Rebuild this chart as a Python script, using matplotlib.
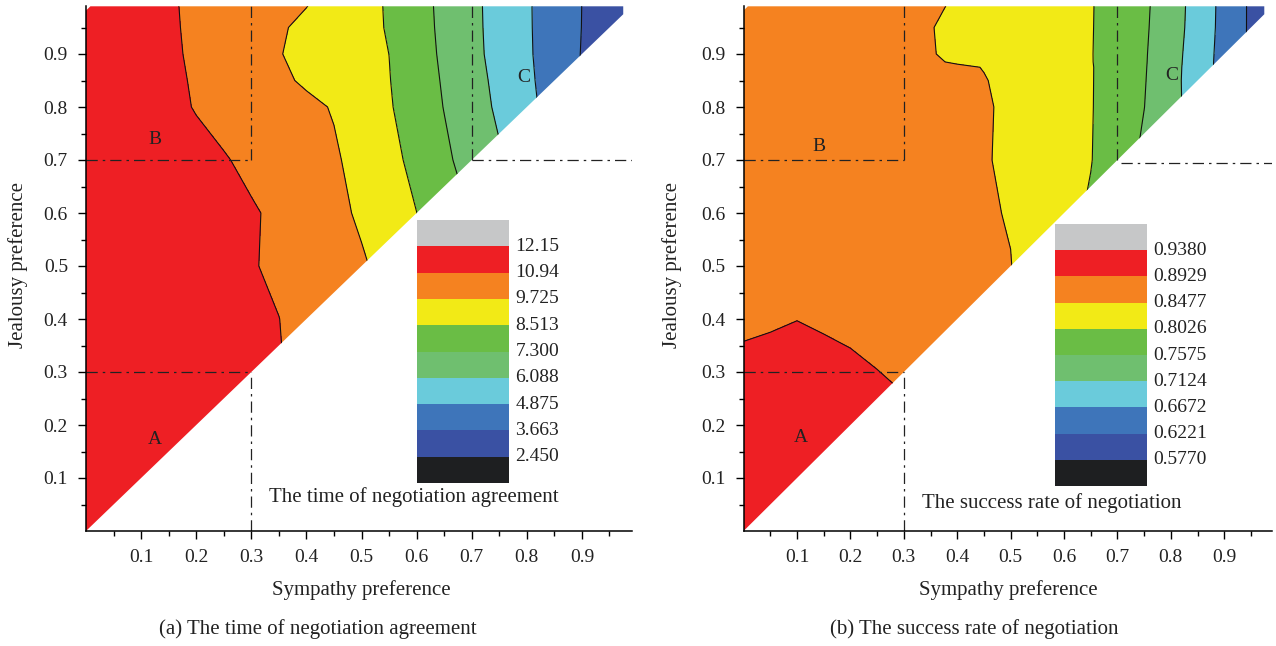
import numpy as np
import matplotlib
matplotlib.use("Agg")
import matplotlib.pyplot as plt
from matplotlib.patches import Polygon

plt.rcParams['font.family'] = ['Liberation Serif', 'DejaVu Serif']

# grid columns (sympathy preference) shared by both panels
sympathy = [0.0, 0.05, 0.1, 0.15, 0.2, 0.25, 0.3, 0.35, 0.4, 0.45, 0.5,
            0.55, 0.6, 0.65, 0.7, 0.75, 0.8, 0.85, 0.9, 0.95, 1.0]

# (a) time of negotiation agreement, one row per jealousy value
time_jealousy = [0.0, 0.3, 0.4, 0.5, 0.6, 0.7, 0.8, 0.85, 0.9, 0.95, 1.0]
time_values = [
    [11.79, 11.69, 11.58, 11.48, 11.38, 11.28, 11.18, 11.08, 10.98, 10.76, 10.45, 10.15, 9.85, 9.36, 8.76, 8.11, 7.43, 6.76, 6.09, 5.33, 4.57],
    [11.79, 11.67, 11.56, 11.44, 11.33, 11.21, 11.10, 10.98, 10.75, 10.43, 10.11, 9.79, 9.26, 8.69, 8.04, 7.37, 6.66, 5.94, 5.18, 4.42, 3.66],
    [11.79, 11.67, 11.55, 11.43, 11.30, 11.18, 11.06, 10.95, 10.63, 10.31, 9.98, 9.61, 9.03, 8.45, 7.77, 7.09, 6.37, 5.63, 4.88, 4.12, 3.36],
    [11.79, 11.66, 11.52, 11.39, 11.26, 11.13, 11.00, 10.78, 10.47, 10.16, 9.85, 9.38, 8.80, 8.18, 7.50, 6.80, 6.09, 5.33, 4.57, 3.81, 3.06],
    [11.79, 11.66, 11.53, 11.40, 11.27, 11.15, 11.02, 10.79, 10.40, 10.00, 9.57, 9.05, 8.52, 7.88, 7.23, 6.52, 5.78, 5.03, 4.27, 3.51, 2.75],
    [11.79, 11.63, 11.47, 11.31, 11.16, 11.00, 10.76, 10.45, 10.15, 9.85, 9.39, 8.83, 8.21, 7.51, 6.85, 6.21, 5.52, 4.79, 3.99, 3.21, 2.50],
    [11.79, 11.57, 11.35, 11.13, 10.90, 10.66, 10.42, 10.18, 9.94, 9.66, 9.13, 8.61, 7.95, 7.27, 6.59, 5.90, 5.19, 4.41, 3.60, 2.96, 2.31],
    [11.79, 11.56, 11.33, 11.11, 10.86, 10.54, 10.23, 9.91, 9.59, 9.24, 8.89, 8.55, 7.89, 7.19, 6.50, 5.81, 5.10, 4.35, 3.60, 2.96, 2.31],
    [11.79, 11.55, 11.32, 11.08, 10.81, 10.46, 10.11, 9.77, 9.45, 9.14, 8.83, 8.51, 7.81, 7.11, 6.40, 5.71, 5.03, 4.33, 3.62, 2.97, 2.31],
    [11.79, 11.54, 11.30, 11.06, 10.78, 10.47, 10.15, 9.84, 9.51, 9.16, 8.82, 8.44, 7.75, 7.06, 6.37, 5.68, 5.01, 4.33, 3.65, 2.98, 2.31],
    [11.79, 11.53, 11.28, 11.03, 10.78, 10.54, 10.29, 10.04, 9.80, 9.39, 8.91, 8.39, 7.71, 7.03, 6.35, 5.67, 5.00, 4.33, 3.66, 2.99, 2.31],
]
time_levels = [2.450, 3.663, 4.875, 6.088, 7.300, 8.513, 9.725, 10.94, 12.15]
time_labels = ['2.450', '3.663', '4.875', '6.088', '7.300', '8.513', '9.725', '10.94', '12.15']

# (b) success rate of negotiation
rate_jealousy = [0.0, 0.2, 0.3, 0.35, 0.4, 0.5, 0.6, 0.7, 0.8, 0.85, 0.875, 0.885, 0.9, 0.95, 1.0]
rate_values = [
    [0.9290, 0.9312, 0.9335, 0.9312, 0.9267, 0.9200, 0.9132, 0.9064, 0.8996, 0.8929, 0.8838, 0.8748, 0.8613, 0.8387, 0.8116, 0.7800, 0.7485, 0.7124, 0.6762, 0.6401, 0.6040],
    [0.9214, 0.9245, 0.9284, 0.9239, 0.9190, 0.9118, 0.9037, 0.8965, 0.8893, 0.8816, 0.8748, 0.8658, 0.8523, 0.8297, 0.8026, 0.7710, 0.7394, 0.7078, 0.6717, 0.6356, 0.5995],
    [0.9033, 0.9064, 0.9104, 0.9059, 0.9010, 0.8938, 0.8857, 0.8784, 0.8712, 0.8658, 0.8590, 0.8523, 0.8297, 0.8071, 0.7800, 0.7485, 0.7169, 0.6853, 0.6492, 0.6131, 0.5770],
    [0.8943, 0.8974, 0.9014, 0.8968, 0.8920, 0.8848, 0.8766, 0.8694, 0.8622, 0.8568, 0.8523, 0.8432, 0.8207, 0.7981, 0.7710, 0.7394, 0.7078, 0.6762, 0.6401, 0.6040, 0.5679],
    [0.8853, 0.8884, 0.8923, 0.8878, 0.8829, 0.8757, 0.8676, 0.8613, 0.8568, 0.8536, 0.8500, 0.8374, 0.8171, 0.7940, 0.7661, 0.7349, 0.7029, 0.6704, 0.6361, 0.6013, 0.5666],
    [0.8793, 0.8762, 0.8732, 0.8700, 0.8669, 0.8639, 0.8607, 0.8577, 0.8546, 0.8514, 0.8484, 0.8327, 0.8139, 0.7926, 0.7675, 0.7381, 0.7059, 0.6737, 0.6395, 0.6047, 0.5700],
    [0.8793, 0.8761, 0.8730, 0.8698, 0.8666, 0.8634, 0.8602, 0.8570, 0.8538, 0.8506, 0.8462, 0.8306, 0.8151, 0.7976, 0.7725, 0.7446, 0.7124, 0.6801, 0.6447, 0.6092, 0.5770],
    [0.8793, 0.8760, 0.8726, 0.8693, 0.8659, 0.8625, 0.8592, 0.8559, 0.8525, 0.8491, 0.8445, 0.8285, 0.8163, 0.8041, 0.7781, 0.7494, 0.7185, 0.6846, 0.6484, 0.6117, 0.5770],
    [0.8793, 0.8760, 0.8727, 0.8693, 0.8660, 0.8627, 0.8593, 0.8560, 0.8527, 0.8493, 0.8450, 0.8292, 0.8170, 0.8048, 0.7825, 0.7580, 0.7263, 0.6923, 0.6559, 0.6194, 0.5929],
    [0.8793, 0.8759, 0.8725, 0.8691, 0.8657, 0.8623, 0.8588, 0.8555, 0.8520, 0.8486, 0.8430, 0.8278, 0.8164, 0.8049, 0.7836, 0.7599, 0.7267, 0.6902, 0.6522, 0.6171, 0.5920],
    [0.8793, 0.8758, 0.8722, 0.8687, 0.8652, 0.8616, 0.8581, 0.8546, 0.8511, 0.8471, 0.8366, 0.8260, 0.8155, 0.8049, 0.7843, 0.7608, 0.7276, 0.6906, 0.6514, 0.6158, 0.5915],
    [0.8793, 0.8752, 0.8711, 0.8670, 0.8629, 0.8588, 0.8547, 0.8506, 0.8453, 0.8371, 0.8289, 0.8208, 0.8126, 0.8044, 0.7845, 0.7612, 0.7283, 0.6910, 0.6514, 0.6158, 0.5915],
    [0.8793, 0.8750, 0.8707, 0.8664, 0.8620, 0.8578, 0.8534, 0.8491, 0.8426, 0.8349, 0.8273, 0.8196, 0.8120, 0.8043, 0.7847, 0.7616, 0.7290, 0.6918, 0.6519, 0.6158, 0.5915],
    [0.8793, 0.8750, 0.8706, 0.8662, 0.8618, 0.8574, 0.8530, 0.8486, 0.8418, 0.8343, 0.8269, 0.8194, 0.8120, 0.8046, 0.7859, 0.7634, 0.7318, 0.6946, 0.6536, 0.6158, 0.5915],
    [0.8793, 0.8753, 0.8712, 0.8672, 0.8631, 0.8591, 0.8551, 0.8510, 0.8461, 0.8378, 0.8296, 0.8213, 0.8130, 0.8048, 0.7871, 0.7650, 0.7332, 0.6959, 0.6542, 0.6158, 0.5915],
]
rate_levels = [0.5770, 0.6221, 0.6672, 0.7124, 0.7575, 0.8026, 0.8477, 0.8929, 0.9380]
rate_labels = ['0.5770', '0.6221', '0.6672', '0.7124', '0.7575', '0.8026', '0.8477', '0.8929', '0.9380']

# band colours from lowest to highest (under, 8 bands, over)
band_colors = ['#1e1f21', '#3a51a3', '#3e75ba', '#6acbdb', '#6fbf6f',
               '#6abd45', '#f2ea16', '#f58220', '#ee1f24', '#c6c7c8']

ticks = [0.1, 0.2, 0.3, 0.4, 0.5, 0.6, 0.7, 0.8, 0.9]
minor_ticks = [0.05, 0.15, 0.25, 0.35, 0.45, 0.55, 0.65, 0.75, 0.85, 0.95]

W, H = 1276, 646
fig = plt.figure(figsize=(W / 100, H / 100), dpi=100)

DASHDOT = (0, (9, 4, 2, 4))
TEXT = '#222222'


def draw_panel(ax_px, leg_px, title_px, xlabel_px, ylabel_px, rows_y, values, levels,
               labels, legend_title, caption, caption_px, marks, guides):
    l, r, t, b = ax_px
    ax = fig.add_axes([l / W, 1 - b / H, (r - l) / W, (b - t) / H])
    X, Y = np.meshgrid(sympathy, rows_y)
    Z = np.array(values)

    # only the upper-left triangle holds data
    clip = Polygon([(0, 0), (0.975, 0.975), (0.975, 0.99), (0.008, 0.99), (0, 0.982)],
                   closed=True, facecolor='none', edgecolor='none')
    ax.add_patch(clip)
    cf = ax.contourf(X, Y, Z, levels=levels, colors=band_colors, extend='both')
    cl = ax.contour(X, Y, Z, levels=levels, colors='#111111', linewidths=0.8)
    cf.set_clip_path(clip)
    cl.set_clip_path(clip)

    for (xs, ys) in guides:
        ax.plot(xs, ys, color=TEXT, lw=0.9, linestyle=DASHDOT)

    for (txt, x, y) in marks:
        ax.text(x, y, txt, ha='center', va='center', fontsize=14, color=TEXT)

    ax.set_xlim(0, 0.99)
    ax.set_ylim(0, 0.99)
    ax.set_xticks(ticks)
    ax.set_yticks(ticks)
    ax.set_xticks(minor_ticks, minor=True)
    ax.set_yticks(minor_ticks, minor=True)
    ax.tick_params(which='major', direction='out', length=6, width=1, labelsize=14,
                   pad=7, labelcolor=TEXT)
    ax.tick_params(which='minor', direction='out', length=3.5, width=1)
    for side in ('top', 'right'):
        ax.spines[side].set_visible(False)
    for side in ('left', 'bottom'):
        ax.spines[side].set_linewidth(1.1)

    axw, axh = r - l, b - t
    ax.set_xlabel('Sympathy preference', fontsize=15, va='center', color=TEXT)
    ax.set_ylabel('Jealousy preference', fontsize=15, va='center', ha='center', color=TEXT)
    ax.xaxis.set_label_coords((xlabel_px[0] - l) / axw, (b - xlabel_px[1]) / axh)
    ax.yaxis.set_label_coords((ylabel_px[0] - l) / axw, (b - ylabel_px[1]) / axh)

    # legend swatches
    ll, lr, lt, lb = leg_px
    lax = fig.add_axes([ll / W, 1 - lb / H, (lr - ll) / W, (lb - lt) / H])
    lax.bar([0] * len(band_colors), [1] * len(band_colors), bottom=range(len(band_colors)),
            width=1, align='edge', color=band_colors, linewidth=0)
    lax.set_xlim(0, 1)
    lax.set_ylim(0, len(band_colors))
    lax.axis('off')
    for i, lab in enumerate(labels):
        lax.text(1.07, i + 1, lab, ha='left', va='center', fontsize=14, color=TEXT)
    fig.text(title_px[0] / W, 1 - title_px[1] / H, legend_title, ha='right', va='center',
             fontsize=15, color=TEXT)
    fig.text(caption_px[0] / W, 1 - caption_px[1] / H, caption, ha='center', va='center',
             fontsize=15, color=TEXT)
    return ax


draw_panel((86, 631.5, 6.3, 531), (417, 509, 220, 483), (559, 497), (361, 590), (18, 265),
           time_jealousy, time_values, time_levels, time_labels,
           'The time of negotiation agreement', '(a) The time of negotiation agreement',
           (318, 629),
           [('A', 0.125, 0.172), ('B', 0.125, 0.738), ('C', 0.795, 0.855)],
           [([0, 0.3], [0.7, 0.7]), ([0.3, 0.3], [0.7, 0.99]),
            ([0, 0.3], [0.3, 0.3]), ([0.3, 0.3], [0, 0.3]),
            ([0.7, 0.7], [0.7, 0.99]), ([0.7, 0.99], [0.7, 0.7])])

draw_panel((743.6, 1272.3, 6.3, 531), (1055, 1147, 224, 486), (1182, 503), (1008, 590), (672, 265),
           rate_jealousy, rate_values, rate_levels, rate_labels,
           'The success rate of negotiation', '(b) The success rate of negotiation',
           (974, 629),
           [('A', 0.107, 0.177), ('B', 0.141, 0.725), ('C', 0.802, 0.86)],
           [([0, 0.3], [0.7, 0.7]), ([0.3, 0.3], [0.7, 0.99]),
            ([0, 0.3], [0.3, 0.3]), ([0.3, 0.3], [0, 0.3]),
            ([0.7, 0.7], [0.7, 0.99]), ([0.707, 0.99], [0.695, 0.695])])

fig.savefig('out.png', dpi=100)
